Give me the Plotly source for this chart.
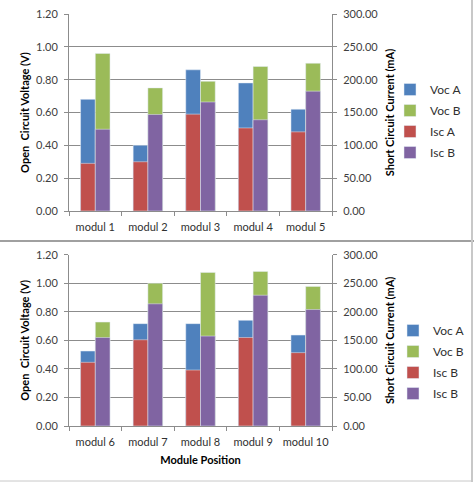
import plotly.graph_objects as go

# ---- data ----
cats_top = ["modul 1", "modul 2", "modul 3", "modul 4", "modul 5"]
voc_a_top = [0.68, 0.40, 0.86, 0.78, 0.62]
voc_b_top = [0.96, 0.75, 0.79, 0.88, 0.90]
isc_a_top = [72.5, 75.0, 147.5, 126.5, 120.5]
isc_b_top = [124.5, 147.0, 166.0, 139.0, 182.5]

cats_bot = ["modul 6", "modul 7", "modul 8", "modul 9", "modul 10"]
voc_a_bot = [0.525, 0.717, 0.717, 0.740, 0.637]
voc_b_bot = [0.728, 1.000, 1.076, 1.083, 0.978]
isc_a_bot = [111.5, 151.0, 98.0, 155.0, 128.5]
isc_b_bot = [155.0, 214.0, 157.5, 229.0, 204.0]

names_top = ["Voc A", "Voc B", "Isc A", "Isc B"]
names_bot = ["Voc A", "Voc B", "Isc B", "Isc B"]

# ---- style ----
C_VA, C_VB, C_IA, C_IB = "#4F81BD", "#9BBB59", "#C0504D", "#8064A2"
FONT = "Lato, 'Open Sans', sans-serif"
W = 474
H = 482
BW = 0.28


def py(p):
    return 1 - p / H


def px(p):
    return p / W


fig = go.Figure()


def add_panel(cats, va, vb, ia, ib, names, xa, ya, ya2, legend, tag):
    fig.add_trace(go.Bar(x=cats, y=va, name=names[0], marker_color=C_VA,
                         offset=-BW, width=BW, xaxis=xa, yaxis=ya, legend=legend,
                         legendgroup=tag + "0"))
    fig.add_trace(go.Bar(x=cats, y=vb, name=names[1], marker_color=C_VB,
                         offset=0, width=BW, xaxis=xa, yaxis=ya, legend=legend,
                         legendgroup=tag + "1"))
    fig.add_trace(go.Bar(x=cats, y=ia, name=names[2], marker_color=C_IA,
                         offset=-BW, width=BW, xaxis=xa, yaxis=ya2, legend=legend,
                         legendgroup=tag + "2"))
    fig.add_trace(go.Bar(x=cats, y=ib, name=names[3], marker_color=C_IB,
                         offset=0, width=BW, xaxis=xa, yaxis=ya2, legend=legend,
                         legendgroup=tag + "3"))


add_panel(cats_top, voc_a_top, voc_b_top, isc_a_top, isc_b_top, names_top,
          "x", "y", "y2", "legend", "t")
add_panel(cats_bot, voc_a_bot, voc_b_bot, isc_a_bot, isc_b_bot, names_bot,
          "x2", "y3", "y4", "legend2", "b")

xdom = [px(69), px(332)]
top_dom = [py(211), py(14)]
bot_dom = [py(426), py(254.7)]

tickfont = dict(family=FONT, size=11, color="#404040")
titlefont = dict(family=FONT, size=11, color="black", weight="bold")
axis_col = "#8C8C8C"
grid_col = "#8C8C8C"

common_x = dict(type="category", showline=True, linecolor=axis_col, linewidth=1,
                ticks="outside", tickson="boundaries", ticklen=4, tickcolor=axis_col,
                tickangle=0, automargin=False, ticklabelstandoff=6,
                tickfont=dict(family=FONT, size=11, color="#303030"),
                showgrid=False, fixedrange=True, domain=xdom)

common_yl = dict(range=[0, 1.2], dtick=0.2, tickformat=".2f", showline=True,
                 linecolor=axis_col, ticks="outside", ticklen=4, tickcolor=axis_col,
                 showgrid=True, gridcolor=grid_col, gridwidth=1, zeroline=False,
                 tickfont=tickfont, ticklabelstandoff=4, automargin=False,
                 title=dict(text="Open  Circuit Voltage (V)", font=titlefont, standoff=4))

common_yr = dict(range=[0, 300], dtick=50, tickformat=".2f", showline=True,
                 linecolor=axis_col, ticks="outside", ticklen=4, tickcolor=axis_col,
                 showgrid=False, zeroline=False, side="right", automargin=False,
                 tickfont=tickfont, ticklabelstandoff=4,
                 title=dict(text="Short Circuit Current (mA)", font=titlefont, standoff=8))

leg = dict(xanchor="left", yanchor="middle",
           font=dict(family=FONT, size=12, color="#303030"),
           itemwidth=30, tracegroupgap=2, bgcolor="rgba(0,0,0,0)")

fig.update_layout(
    width=W, height=H,
    margin=dict(l=0, r=0, t=0, b=0, autoexpand=False),
    paper_bgcolor="white", plot_bgcolor="white",
    barmode="overlay",
    font=dict(family=FONT, size=11, color="#303030"),
    xaxis=dict(common_x, anchor="y"),
    yaxis=dict(common_yl, domain=top_dom, anchor="x"),
    yaxis2=dict(common_yr, overlaying="y", anchor="x"),
    xaxis2=dict(common_x, anchor="y3",
                title=dict(text="Module Position", font=titlefont, standoff=9)),
    yaxis3=dict(common_yl, domain=bot_dom, anchor="x2"),
    yaxis4=dict(common_yr, overlaying="y3", anchor="x2"),
    legend=dict(leg, x=px(390), y=py(121)),
    legend2=dict(leg, x=px(393), y=py(362)),
    showlegend=True,
    shapes=[
        dict(type="line", xref="paper", yref="paper", x0=0, x1=1,
             y0=py(241), y1=py(241), line=dict(color="#A0A0A0", width=2)),
        dict(type="line", xref="paper", yref="paper", x0=px(472), x1=px(472),
             y0=0, y1=1, line=dict(color="#C8C8C8", width=2)),
        dict(type="line", xref="paper", yref="paper", x0=0, x1=px(472),
             y0=py(481), y1=py(481), line=dict(color="#C8C8C8", width=1)),
    ],
)

fig.write_html("out.html", config={"displayModeBar": False},
               post_script="document.body.style.margin='0';document.body.style.overflow='hidden';")
